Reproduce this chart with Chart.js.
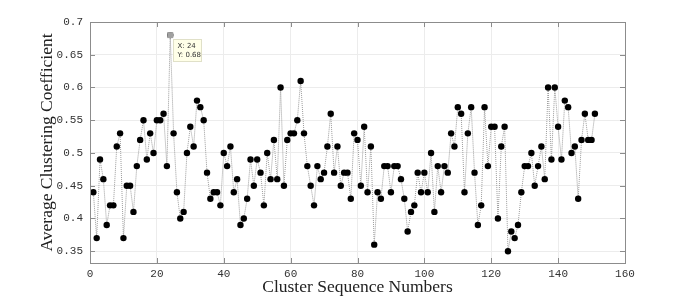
<!DOCTYPE html>
<html>
<head>
<meta charset="utf-8">
<script src="https://cdn.jsdelivr.net/npm/chart.js@4/dist/chart.umd.min.js"></script>
<style>
  html, body { margin: 0; padding: 0; background: #ffffff; }
  #wrap { width: 692px; height: 299px; position: relative; }
</style>
</head>
<body>
<div id="wrap"><canvas id="clusterChart"></canvas></div>
<script>
// Average clustering coefficient per cluster (sequence 1..151)
const clusterCoeff = [
    0.44, 0.37, 0.49, 0.46, 0.39, 0.42, 0.42, 0.51, 0.53, 0.37,
    0.45, 0.45, 0.41, 0.48, 0.52, 0.55, 0.49, 0.53, 0.50, 0.55,
    0.55, 0.56, 0.48, 0.68, 0.53, 0.44, 0.40, 0.41, 0.50, 0.54,
    0.51, 0.58, 0.57, 0.55, 0.47, 0.43, 0.44, 0.44, 0.42, 0.50,
    0.48, 0.51, 0.44, 0.46, 0.39, 0.40, 0.43, 0.49, 0.45, 0.49,
    0.47, 0.42, 0.50, 0.46, 0.52, 0.46, 0.60, 0.45, 0.52, 0.53,
    0.53, 0.55, 0.61, 0.53, 0.48, 0.45, 0.42, 0.48, 0.46, 0.47,
    0.51, 0.56, 0.47, 0.51, 0.45, 0.47, 0.47, 0.43, 0.53, 0.52,
    0.45, 0.54, 0.44, 0.51, 0.36, 0.44, 0.43, 0.48, 0.48, 0.44,
    0.48, 0.48, 0.46, 0.43, 0.38, 0.41, 0.42, 0.47, 0.44, 0.47,
    0.44, 0.50, 0.41, 0.48, 0.44, 0.48, 0.47, 0.53, 0.51, 0.57,
    0.56, 0.44, 0.53, 0.57, 0.47, 0.39, 0.42, 0.57, 0.48, 0.54,
    0.54, 0.40, 0.51, 0.54, 0.35, 0.38, 0.37, 0.39, 0.44, 0.48,
    0.48, 0.50, 0.45, 0.48, 0.51, 0.46, 0.60, 0.49, 0.60, 0.54,
    0.49, 0.58, 0.57, 0.50, 0.51, 0.43, 0.52, 0.56, 0.52, 0.52,
    0.56
];
const sequenceNumbers = clusterCoeff.map((v, i) => i + 1);

const xTickValues = [0, 20, 40, 60, 80, 100, 120, 140, 160];
const yTickValues = [0.35, 0.4, 0.45, 0.5, 0.55, 0.6, 0.65, 0.7];
const yTickLabels = ['0.35', '0.4', '0.45', '0.5', '0.55', '0.6', '0.65', '0.7'];

// Highlighted data tip
const tipX = 24;
const tipY = 0.68;

const points = sequenceNumbers.map((x, i) => ({ x: x, y: clusterCoeff[i] }));

// Draws the box outline, inward tick marks and the data tip
const matlabAxes = {
    id: 'matlabAxes',
    afterDatasetsDraw(chart) {
        const ctx = chart.ctx;
        const area = chart.chartArea;
        const xs = chart.scales.x;
        const ys = chart.scales.y;

        ctx.save();
        ctx.strokeStyle = '#8c8c8c';
        ctx.lineWidth = 1;
        ctx.beginPath();
        xTickValues.forEach(v => {
            const px = Math.round(xs.getPixelForValue(v)) + 0.5;
            ctx.moveTo(px, area.bottom);
            ctx.lineTo(px, area.bottom - 5);
            ctx.moveTo(px, area.top);
            ctx.lineTo(px, area.top + 5);
        });
        yTickValues.forEach(v => {
            const py = Math.round(ys.getPixelForValue(v)) + 0.5;
            ctx.moveTo(area.left, py);
            ctx.lineTo(area.left + 5, py);
            ctx.moveTo(area.right, py);
            ctx.lineTo(area.right - 5, py);
        });
        ctx.stroke();
        ctx.strokeRect(Math.round(area.left) + 0.5, Math.round(area.top) + 0.5,
            Math.round(area.right - area.left), Math.round(area.bottom - area.top));

        // data tip marker and label
        const tx = xs.getPixelForValue(tipX);
        const ty = ys.getPixelForValue(tipY);
        ctx.fillStyle = '#a0a0a0';
        ctx.fillRect(tx - 3, ty - 3, 6, 6);

        const bx = Math.round(tx + 3) + 0.5;
        const by = Math.round(ty + 4) + 0.5;
        ctx.fillStyle = '#ffffe8';
        ctx.strokeStyle = '#e0e0c8';
        ctx.fillRect(bx, by, 28, 22);
        ctx.strokeRect(bx, by, 28, 22);
        ctx.fillStyle = '#333333';
        ctx.font = '7px "DejaVu Sans"';
        ctx.textBaseline = 'middle';
        ctx.fillText('X: ' + tipX, bx + 4, by + 7);
        ctx.fillText('Y: ' + tipY, bx + 4, by + 16);
        ctx.restore();
    }
};

const chart = new Chart(document.getElementById('clusterChart'), {
    type: 'line',
    data: {
        datasets: [{
            data: points,
            borderColor: '#9a9a9a',
            borderWidth: 1,
            borderDash: [1, 1],
            pointRadius: 3.2,
            pointBackgroundColor: '#000000',
            pointBorderColor: '#000000',
            pointBorderWidth: 0,
            tension: 0
        }]
    },
    options: {
        responsive: true,
        maintainAspectRatio: false,
        animation: false,
        events: [],
        layout: { padding: { left: 30, right: 67, top: 22, bottom: 0 } },
        plugins: {
            legend: { display: false },
            tooltip: { enabled: false }
        },
        scales: {
            x: {
                type: 'linear',
                min: 0,
                max: 160,
                afterBuildTicks: axis => { axis.ticks = xTickValues.map(v => ({ value: v })); },
                afterFit: axis => { axis.height = 36; },
                grid: { color: '#ececec', drawTicks: false },
                border: { display: false },
                ticks: {
                    color: '#333333',
                    padding: 4,
                    font: { family: '"Liberation Mono"', size: 11 }
                },
                title: {
                    display: true,
                    text: 'Cluster Sequence Numbers',
                    color: '#222222',
                    font: { family: '"Liberation Serif"', size: 17.5 },
                    padding: { top: 0, bottom: 1.5 }
                }
            },
            y: {
                min: 0.332,
                max: 0.7,
                afterBuildTicks: axis => { axis.ticks = yTickValues.map(v => ({ value: v })); },
                afterFit: axis => { axis.width = 60; },
                grid: { color: '#ececec', drawTicks: false },
                border: { display: false },
                ticks: {
                    color: '#333333',
                    padding: 7,
                    font: { family: '"Liberation Mono"', size: 11 },
                    callback: (value) => {
                        const idx = yTickValues.findIndex(v => Math.abs(v - value) < 1e-9);
                        return idx >= 0 ? yTickLabels[idx] : '';
                    }
                },
                title: {
                    display: true,
                    text: 'Average Clustering Coefficient',
                    color: '#222222',
                    font: { family: '"Liberation Serif"', size: 17.5 },
                    padding: { top: 7, bottom: 0 }
                }
            }
        }
    },
    plugins: [matlabAxes]
});
</script>
</body>
</html>
